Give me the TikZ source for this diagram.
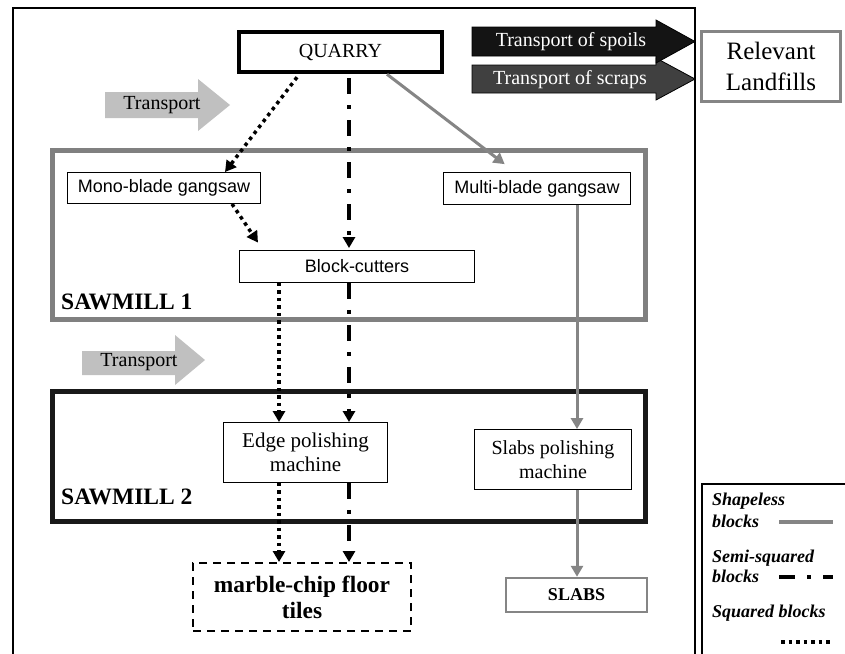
\documentclass[tikz,border=0pt]{standalone}
\usepackage{fontspec}
\setmainfont{Liberation Serif}
\newfontfamily\arialf{Liberation Sans}
\usetikzlibrary{arrows.meta,calc}
\definecolor{grayc}{HTML}{858585}
\definecolor{boxgray}{HTML}{808080}
\definecolor{trfill}{HTML}{C0C0C0}
\definecolor{spoilfill}{HTML}{141414}
\definecolor{scrapfill}{HTML}{404040}
\begin{document}
\begin{tikzpicture}[x=1pt,y=-1pt,
  hd/.style={-{Triangle[width=12pt,length=11pt]}},
  sqline/.style={line width=3.5pt, dash pattern=on 3.5pt off 4pt, hd},
  semiline/.style={line width=4pt, dash pattern=on 16pt off 11pt on 4pt off 11pt, hd},
  shapeline/.style={line width=3pt, draw=grayc, hd},
  sansbox/.style={draw, line width=0.9pt, inner sep=0pt, font=\arialf\fontsize{18}{21}\selectfont},
  serifbox/.style={draw, line width=0.9pt, inner sep=0pt, align=center, font=\fontsize{21}{24}\selectfont},
  mill/.style={line width=5pt, inner sep=0pt},
  arrtxt/.style={inner sep=0pt, font=\fontsize{20}{24}\selectfont},
  legtxt/.style={inner sep=0pt, anchor=base west, font=\bfseries\itshape\fontsize{18}{21}\selectfont}
]
\useasboundingbox (0,0) rectangle (845,653);
\fill[white] (0,0) rectangle (845,653);

% outer frame
\draw[line width=2pt] (13,656) -- (13,8) -- (695,8) -- (695,656);

% containers
\node[mill, draw=boxgray, minimum width=593pt, minimum height=169pt] (sm1) at (349,235) {};
\node[mill, draw=black!90, minimum width=593pt, minimum height=130pt] (sm2) at (349,456.5) {};
\node[inner sep=0pt, anchor=base west, font=\bfseries\fontsize{23.5}{26}\selectfont] (sm1lbl) at (61,309) {SAWMILL 1};
\node[inner sep=0pt, anchor=base west, font=\bfseries\fontsize{23.5}{26}\selectfont] (sm2lbl) at (61,504) {SAWMILL 2};

% transport arrows
\fill[trfill] (105,92) -- (198,92) -- (198,79) -- (230,105) -- (198,131) -- (198,118) -- (105,118) -- cycle;
\node[arrtxt] (tr1) at (162,105.5) {Transport};
\fill[trfill] (82,351) -- (175,351) -- (175,335) -- (205,360) -- (175,385) -- (175,375) -- (82,375) -- cycle;
\node[arrtxt] (tr2) at (139,362) {Transport};

\filldraw[fill=scrapfill, draw=black, line width=0.8pt] (472,65) -- (656,65) -- (656,58) -- (695,79) -- (656,100) -- (656,93) -- (472,93) -- cycle;
\node[arrtxt, text=white] (scr) at (570,79.5) {Transport of scraps};
\filldraw[fill=spoilfill, draw=black, line width=0.8pt] (472,27) -- (656,27) -- (656,20) -- (695,41.5) -- (656,63) -- (656,56) -- (472,56) -- cycle;
\node[arrtxt, text=white] (spo) at (571,41.5) {Transport of spoils};

% main boxes
\node[draw, line width=4.5pt, minimum width=203pt, minimum height=40pt, inner sep=0pt, font=\fontsize{20}{24}\selectfont] (quarry) at (340.5,52) {QUARRY};
\node[draw=grayc, line width=3pt, minimum width=139pt, minimum height=70pt, inner sep=0pt, align=center, font=\fontsize{25}{31}\selectfont] (land) at (771,66.5) {Relevant\\Landfills};

\node[sansbox, minimum width=193pt, minimum height=31pt] (mono) at (164,188) {Mono-blade gangsaw};
\node[sansbox, minimum width=187pt, minimum height=32pt] (multi) at (537,188.5) {Multi-blade gangsaw};
\node[sansbox, minimum width=235pt, minimum height=32pt] (block) at (357,266.5) {Block-cutters};

\node[serifbox, minimum width=164pt, minimum height=60pt] (edge) at (305.5,452.5) {Edge polishing\\machine};
\node[serifbox, minimum width=157pt, minimum height=60pt, font=\fontsize{20}{24}\selectfont] (slpol) at (553,459.5) {Slabs polishing\\machine};

\node[draw, line width=2pt, dash pattern=on 8pt off 6pt, minimum width=218pt, minimum height=68pt, inner sep=0pt, align=center, font=\bfseries\fontsize{23.4}{26}\selectfont] (tiles) at (302,597) {marble-chip floor\\tiles};
\node[draw=grayc, line width=2.5pt, minimum width=141pt, minimum height=34pt, inner sep=0pt, font=\bfseries\fontsize{18}{21}\selectfont] (slabs) at (576.5,595) {SLABS};

% connectors
\draw[sqline] ([xshift=-43.5pt,yshift=-3pt]quarry.south) -- ([xshift=61pt]mono.north);
\draw[sqline, shorten >=9pt] ([xshift=68pt]mono.south) -- ([xshift=-94pt]block.north);
\draw[semiline] ([xshift=8.5pt,yshift=-4pt]quarry.south) -- ([xshift=-8pt,yshift=2pt]block.north);
\draw[shapeline, shorten >=13pt] ([xshift=46.5pt]quarry.south) -- ([xshift=-22pt]multi.north);
\draw[shapeline] ([xshift=40pt]multi.south) -- ([xshift=24pt]slpol.north);
\draw[shapeline] ([xshift=24pt]slpol.south) -- ([xshift=0.5pt]slabs.north);
\draw[sqline] ([xshift=-78pt]block.south) -- ([xshift=-26.5pt]edge.north);
\draw[semiline] ([xshift=-8pt]block.south) -- ([xshift=43.5pt]edge.north);
\draw[sqline] ([xshift=-26.5pt]edge.south) -- ([xshift=-23pt]tiles.north);
\draw[semiline] ([xshift=43.5pt]edge.south) -- ([xshift=47pt]tiles.north);

% legend
\draw[line width=1.5pt] (702,484) rectangle (860,670);
\node[legtxt] (l1) at (712,505) {Shapeless};
\node[legtxt] (l2) at (712,527) {blocks};
\node[legtxt] (l3) at (712,562) {Semi-squared};
\node[legtxt] (l4) at (712,582) {blocks};
\node[legtxt] (l5) at (712,617) {Squared blocks};
\coordinate (g1a) at (779,522); \coordinate (g1b) at (833,522);
\coordinate (g2a) at (779,577); \coordinate (g2b) at (833,577);
\coordinate (g3a) at (781,642); \coordinate (g3b) at (833,642);
\draw[grayc, line width=3.5pt] (g1a) -- (g1b);
\draw[line width=4pt, dash pattern=on 16pt off 12pt on 4pt off 12pt] (g2a) -- (g2b);
\draw[line width=3.5pt, dash pattern=on 3.5pt off 4pt] (g3a) -- (g3b);
\end{tikzpicture}
\end{document}
